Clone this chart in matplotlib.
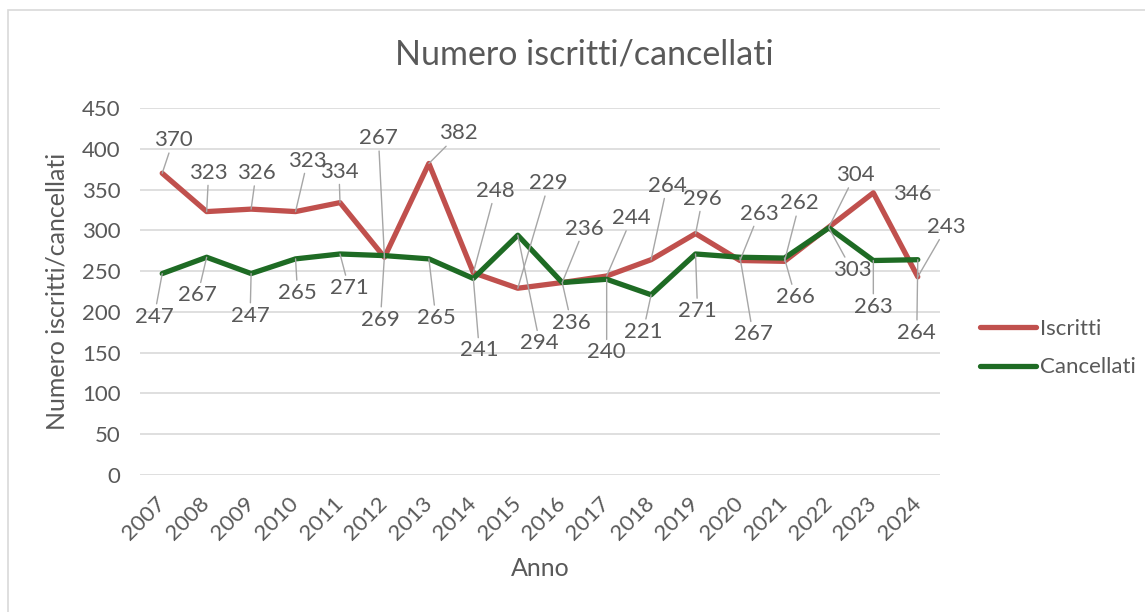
import matplotlib
matplotlib.use("Agg")
import matplotlib.pyplot as plt
from matplotlib.patches import Rectangle

plt.rcParams['font.family'] = ['Lato', 'DejaVu Sans']

# --- dati ---
anni = ["2007", "2008", "2009", "2010", "2011", "2012", "2013", "2014", "2015",
        "2016", "2017", "2018", "2019", "2020", "2021", "2022", "2023", "2024"]
iscritti = [370, 323, 326, 323, 334, 267, 382, 248, 229,
            236, 244, 264, 296, 263, 262, 304, 346, 243]
cancellati = [247, 267, 247, 265, 271, 269, 265, 241, 294,
              236, 240, 221, 271, 267, 266, 303, 263, 264]

# spostamento delle etichette (pixel) rispetto al punto
off_iscritti = [(11, 33), (2, 39), (5, 36), (12, 51), (-1, 31), (-6, 119),
                (30, 30), (22, 82), (31, 105), (22, 54), (25, 58), (16, 74),
                (7, 35), (19, 47), (15, 58), (26, 52), (39, -1), (29, 50)]
off_cancellati = [(-8, -43), (-9, -38), (-1, -42), (2, -34), (9, -34), (-4, -64),
                  (7, -59), (6, -72), (22, -108), (9, -40), (0, -73), (-8, -37),
                  (2, -57), (13, -77), (11, -39), (23, -42), (0, -46), (-1, -73)]

ROSSO = "#C0504D"
VERDE = "#1E6B24"
GRIGIO = "#595959"
LEADER = "#A6A6A6"

fig = plt.figure(figsize=(11.45, 6.12), dpi=100)
ax = fig.add_axes([140 / 1145, 1 - 475 / 612, 800 / 1145, 367 / 612])

x = list(range(len(anni)))
ax.plot(x, iscritti, color=ROSSO, lw=3.8, label="Iscritti", solid_capstyle="round",
        solid_joinstyle="round", zorder=3)
ax.plot(x, cancellati, color=VERDE, lw=3.8, label="Cancellati", solid_capstyle="round",
        solid_joinstyle="round", zorder=3)


def etichette(valori, offsets, no_leader=()):
    for i, (v, off) in enumerate(zip(valori, offsets)):
        props = None
        if i not in no_leader:
            props = dict(arrowstyle="-", color=LEADER, lw=1.0, shrinkA=0, shrinkB=0)
        ax.annotate(str(v), xy=(i, v), xytext=off, textcoords="offset pixels",
                    ha="center", va="center", fontsize=16, color=GRIGIO,
                    arrowprops=props, zorder=4)


etichette(iscritti, off_iscritti, no_leader=(16,))
etichette(cancellati, off_cancellati)

ax.set_xlim(-0.5, len(anni) - 0.5)
ax.set_ylim(0, 450)
ax.set_yticks(range(0, 451, 50))
ax.set_xticks(x)
ax.set_xticklabels(anni, rotation=45, ha="right", va="center", rotation_mode="anchor")
ax.yaxis.grid(True, color="#D9D9D9", lw=1.2)
ax.set_axisbelow(True)
for s in ax.spines.values():
    s.set_visible(False)
ax.tick_params(axis="both", length=0, labelsize=16, labelcolor=GRIGIO)
ax.tick_params(axis="y", pad=14)
ax.tick_params(axis="x", pad=18)

ax.set_xlabel("Anno", fontsize=18, color=GRIGIO, labelpad=10)
ax.set_ylabel("Numero iscritti/cancellati", fontsize=18, color=GRIGIO, labelpad=10)
fig.text(584 / 1145, 1 - 55 / 612, "Numero iscritti/cancellati", ha="center", va="center",
         fontsize=24.5, color=GRIGIO)

fig.legend(loc="center left", bbox_to_anchor=(960 / 1145, 1 - 348 / 612), frameon=False,
           fontsize=16, handlelength=2.5, handletextpad=0.18, labelspacing=0.85,
           labelcolor=GRIGIO)

# bordo del grafico
fig.patches.append(Rectangle((8 / 1145, -0.02), 1.1, 1 - 10 / 612 + 0.02,
                             transform=fig.transFigure, fill=False,
                             edgecolor="#D9D9D9", lw=1.2))

fig.savefig("out.png", dpi=100)
